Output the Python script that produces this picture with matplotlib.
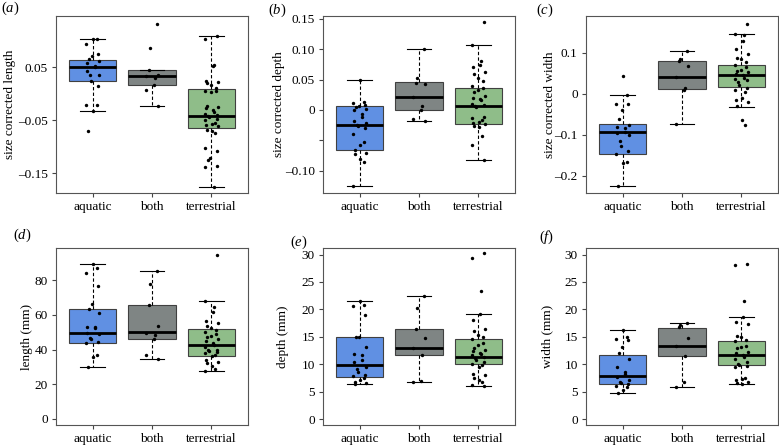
import numpy as np
import matplotlib
matplotlib.use("Agg")
import matplotlib.pyplot as plt

plt.rcParams['font.family'] = ['Liberation Serif', 'DejaVu Serif']
plt.rcParams['mathtext.fontset'] = 'custom'
plt.rcParams['mathtext.rm'] = 'Liberation Serif'
plt.rcParams['mathtext.it'] = 'Liberation Serif:italic'

groups = ["aquatic", "both", "terrestrial"]
box_colors = ["#6090e3", "#7f8584", "#8fbd89"]

# ---------------- (a) size corrected length ----------------
a_aquatic = [0.104, 0.104, 0.095, 0.075, 0.072, 0.065, 0.0625, 0.059, 0.053, 0.05,
             0.044, 0.036, 0.035, 0.025, 0.014, -0.021, -0.021, -0.0325, -0.07]
a_both = [0.1325, 0.087, 0.045, 0.036, 0.033, 0.029, 0.017, 0.0075, -0.0225]
a_terr = [0.109, 0.104, 0.054, 0.053, 0.025, 0.022, 0.02, 0.017, 0.011, 0.006, 0.005,
          0.004, -0.024, -0.025, -0.0275, -0.031, -0.034, -0.0375, -0.041, -0.0425,
          -0.044, -0.047, -0.05, -0.056, -0.0575, -0.059, -0.061, -0.069, -0.071,
          -0.075, -0.102, -0.109, -0.122, -0.125, -0.136, -0.139, -0.176]
# stats per group: [whisker low, q1, median, q3, whisker high]
a_stats = [[-0.0325, 0.0244, 0.0513, 0.0638, 0.1038],
           [-0.0225, 0.0169, 0.033, 0.045, 0.045],
           [-0.176, -0.065, -0.042, 0.0094, 0.109]]

# ---------------- (b) size corrected depth ----------------
b_aquatic = [0.049, 0.0125, 0.011, 0.008, 0.007, 0.005, 0.0016, 0.0, -0.0065, -0.012,
             -0.0175, -0.021, -0.0245, -0.027, -0.029, -0.039, -0.052, -0.058, -0.0665,
             -0.071, -0.073, -0.08, -0.0855, -0.125]
b_both = [0.0998, 0.052, 0.045, 0.042, 0.022, 0.007, 0.0, -0.015, -0.0175]
b_terr = [0.1445, 0.106, 0.080, 0.0736, 0.07, 0.0616, 0.059, 0.052, 0.048, 0.04, 0.0354,
          0.033, 0.03, 0.0224, 0.02, 0.018, 0.0164, 0.0098, 0.008, 0.006, 0.0044, -0.012,
          -0.0136, -0.0158, -0.019, -0.021, -0.023, -0.0256, -0.028, -0.043, -0.058, -0.082]
b_stats = [[-0.125, -0.0665, -0.025, 0.0071, 0.049],
           [-0.0175, 0.0005, 0.0218, 0.0453, 0.0998],
           [-0.082, -0.0229, 0.007, 0.0354, 0.106]]

# ---------------- (c) size corrected width ----------------
c_aquatic = [0.0426, -0.003, -0.024, -0.024, -0.039, -0.062, -0.0756, -0.08, -0.084,
             -0.092, -0.096, -0.1, -0.116, -0.128, -0.14, -0.148, -0.1665, -0.168, -0.226]
c_both = [0.104, 0.084, 0.081, 0.067, 0.042, 0.015, 0.0105, -0.074]
c_terr = [0.171, 0.146, 0.143, 0.13, 0.109, 0.097, 0.088, 0.084, 0.077, 0.0716, 0.065,
          0.0587, 0.0555, 0.053, 0.049, 0.045, 0.039, 0.036, 0.033, 0.029, 0.021, 0.015,
          0.0105, 0.005, -0.011, -0.015, -0.019, -0.03, -0.0636, -0.0756]
c_stats = [[-0.226, -0.147, -0.0933, -0.074, -0.003],
           [-0.074, 0.0129, 0.0418, 0.0796, 0.104],
           [-0.031, 0.0177, 0.045, 0.07, 0.1456]]

# ---------------- (d) length (mm) ----------------
d_aquatic = [89.4, 87.1, 84.2, 76.7, 66.3, 63.6, 61.2, 53.1, 52.5, 53.1, 49.8, 49.2,
             46.9, 46.0, 44.4, 43.8, 37.1, 35.8, 30.0]
d_both = [85.4, 78.1, 66.0, 53.8, 49.6, 48.5, 46.3, 36.7, 34.8]
d_terr = [94.8, 67.9, 64.6, 61.5, 56.5, 55.6, 53.7, 52.7, 51.2, 50.2, 48.7, 47.9, 47.3,
          46.2, 45.0, 43.8, 42.5, 41.2, 40.0, 39.6, 39.0, 38.3, 37.7, 36.9, 36.2, 33.8,
          32.9, 32.3, 30.4, 29.0, 27.5]
d_stats = [[30.0, 43.8, 49.4, 63.3, 89.4],
           [34.8, 46.0, 50.2, 66.0, 85.4],
           [27.5, 36.5, 42.5, 51.7, 67.9]]

# ---------------- (e) depth (mm) ----------------
e_aquatic = [21.5, 20.8, 20.6, 18.9, 15.0, 14.9, 13.2, 11.8, 11.7, 10.7, 10.4, 9.5, 9.1,
             8.5, 8.1, 7.9, 7.5, 7.2, 6.8, 6.5, 6.3]
e_both = [22.5, 20.2, 16.5, 14.7, 12.9, 11.7, 6.9, 6.7]
e_terr = [30.2, 29.4, 23.3, 19.1, 18.0, 16.5, 16.1, 15.4, 14.9, 14.6, 13.9, 13.5, 12.9,
          12.6, 12.4, 12.1, 11.8, 11.6, 11.4, 11.05, 10.75, 10.4, 10.1, 9.8, 9.5, 8.3,
          8.0, 7.4, 7.2, 6.8, 6.2, 6.1]
e_stats = [[6.3, 7.6, 9.8, 14.9, 21.5],
           [6.7, 11.7, 12.9, 16.5, 22.5],
           [6.1, 10.0, 11.4, 14.6, 19.1]]

# ---------------- (f) width (mm) ----------------
f_aquatic = [16.2, 15.0, 14.6, 14.4, 13.2, 12.0, 10.9, 9.4, 8.6, 8.2, 7.7, 7.2, 6.8, 6.5,
             6.3, 6.1, 5.9, 5.3, 4.7]
f_both = [17.5, 17.2, 16.7, 14.7, 13.4, 11.5, 6.7, 5.9]
f_terr = [28.2, 28.05, 21.5, 18.6, 17.7, 17.3, 15.1, 14.9, 14.5, 14.3, 13.3, 13.1, 12.9,
          12.3, 12.0, 11.65, 11.35, 10.9, 10.4, 10.1, 9.9, 9.7, 9.5, 7.5, 7.3, 7.1, 6.7,
          6.5, 6.3]
f_stats = [[4.7, 6.3, 7.8, 11.7, 16.2],
           [5.9, 11.5, 13.4, 16.6, 17.5],
           [6.3, 9.9, 11.65, 14.3, 18.6]]

panel_letters = ["a", "b", "c", "d", "e", "f"]
y_labels = ["size corrected length", "size corrected depth", "size corrected width",
            "length (mm)", "depth (mm)", "width (mm)"]
y_ticks = [[0.05, -0.05, -0.15],
           [0.15, 0.10, 0.05, 0.0, -0.05, -0.10],
           [0.1, 0.0, -0.1, -0.2],
           [0, 20, 40, 60, 80],
           [0, 5, 10, 15, 20, 25, 30],
           [0, 5, 10, 15, 20, 25, 30]]
y_ticklabels = [["0.05", "\u20130.05", "\u20130.15"],
                ["0.15", "0.10", "0.05", "0", "", "\u20130.10"],
                ["0.1", "0", "\u20130.1", "\u20130.2"],
                ["0", "20", "40", "60", "80"],
                ["0", "5", "10", "15", "20", "25", "30"],
                ["0", "5", "10", "15", "20", "25", "30"]]

points = [(a_aquatic, a_both, a_terr), (b_aquatic, b_both, b_terr),
          (c_aquatic, c_both, c_terr), (d_aquatic, d_both, d_terr),
          (e_aquatic, e_both, e_terr), (f_aquatic, f_both, f_terr)]
stats = [a_stats, b_stats, c_stats, d_stats, e_stats, f_stats]

# layout (pixels)
W, H = 779, 447
fig = plt.figure(figsize=(W / 100, H / 100), dpi=100)
lefts = [56, 323, 586]
tops = [16, 248]
bottoms = [193, 425]
axw = 192
ylims = [(-0.1875, 0.147), (-0.1363, 0.1543), (-0.242, 0.19),
         (-3.65, 98.7), (-1.09, 31.2), (-1.09, 31.2)]
letter_pos = [(10, 8), (277, 10), (545, 10), (22, 235), (299, 242), (547, 237)]
ylabel_x = [10, 279, 550, 27, 283, 547]

for k in range(6):
    r, c = divmod(k, 3)
    l = lefts[c]
    t, b = tops[r], bottoms[r]
    ax = fig.add_axes([l / W, (H - b) / H, axw / W, (b - t) / H])
    st = []
    for s in stats[k]:
        st.append(dict(whislo=s[0], q1=s[1], med=s[2], q3=s[3], whishi=s[4], fliers=[]))
    bp = ax.bxp(st, positions=[1, 2, 3], widths=0.8, capwidths=0.42, patch_artist=True,
                showfliers=False,
                boxprops=dict(edgecolor="#404040", linewidth=0.8),
                medianprops=dict(color="black", linewidth=2.0),
                whiskerprops=dict(color="black", linestyle=(0, (3, 2)), linewidth=0.8),
                capprops=dict(color="black", linewidth=0.8))
    for patch, col in zip(bp["boxes"], box_colors):
        patch.set_facecolor(col)
    for gi, vals in enumerate(points[k]):
        n = len(vals)
        idx = np.arange(n)
        jit = 0.11 * np.sin(idx * 2.399 + gi)
        ax.scatter(np.full(n, gi + 1.0) + jit, vals, s=6, color="black", zorder=5,
                   linewidths=0)
    ax.set_xlim(0.38, 3.62)
    ax.set_ylim(*ylims[k])
    ax.set_xticks([1, 2, 3])
    ax.set_xticklabels(groups)
    ax.set_yticks(y_ticks[k])
    ax.set_yticklabels(y_ticklabels[k])
    ax.tick_params(axis="both", direction="out", length=3, width=0.8, color="#444444",
                   labelsize=9.5, pad=3)
    for sp in ax.spines.values():
        sp.set_color("#555555")
        sp.set_linewidth(0.8)
    ax.set_ylabel(y_labels[k], fontsize=9.5)
    ax.yaxis.label.set_va("center")
    ax.yaxis.set_label_coords((ylabel_x[k] - l) / axw, 0.5)
    lx, ly = letter_pos[k]
    fig.text(lx / W, 1 - ly / H, "(" + r"$\it{" + panel_letters[k] + "}$" + ")",
             fontsize=10.5, ha="center", va="center")

fig.savefig("out.png", dpi=100)
